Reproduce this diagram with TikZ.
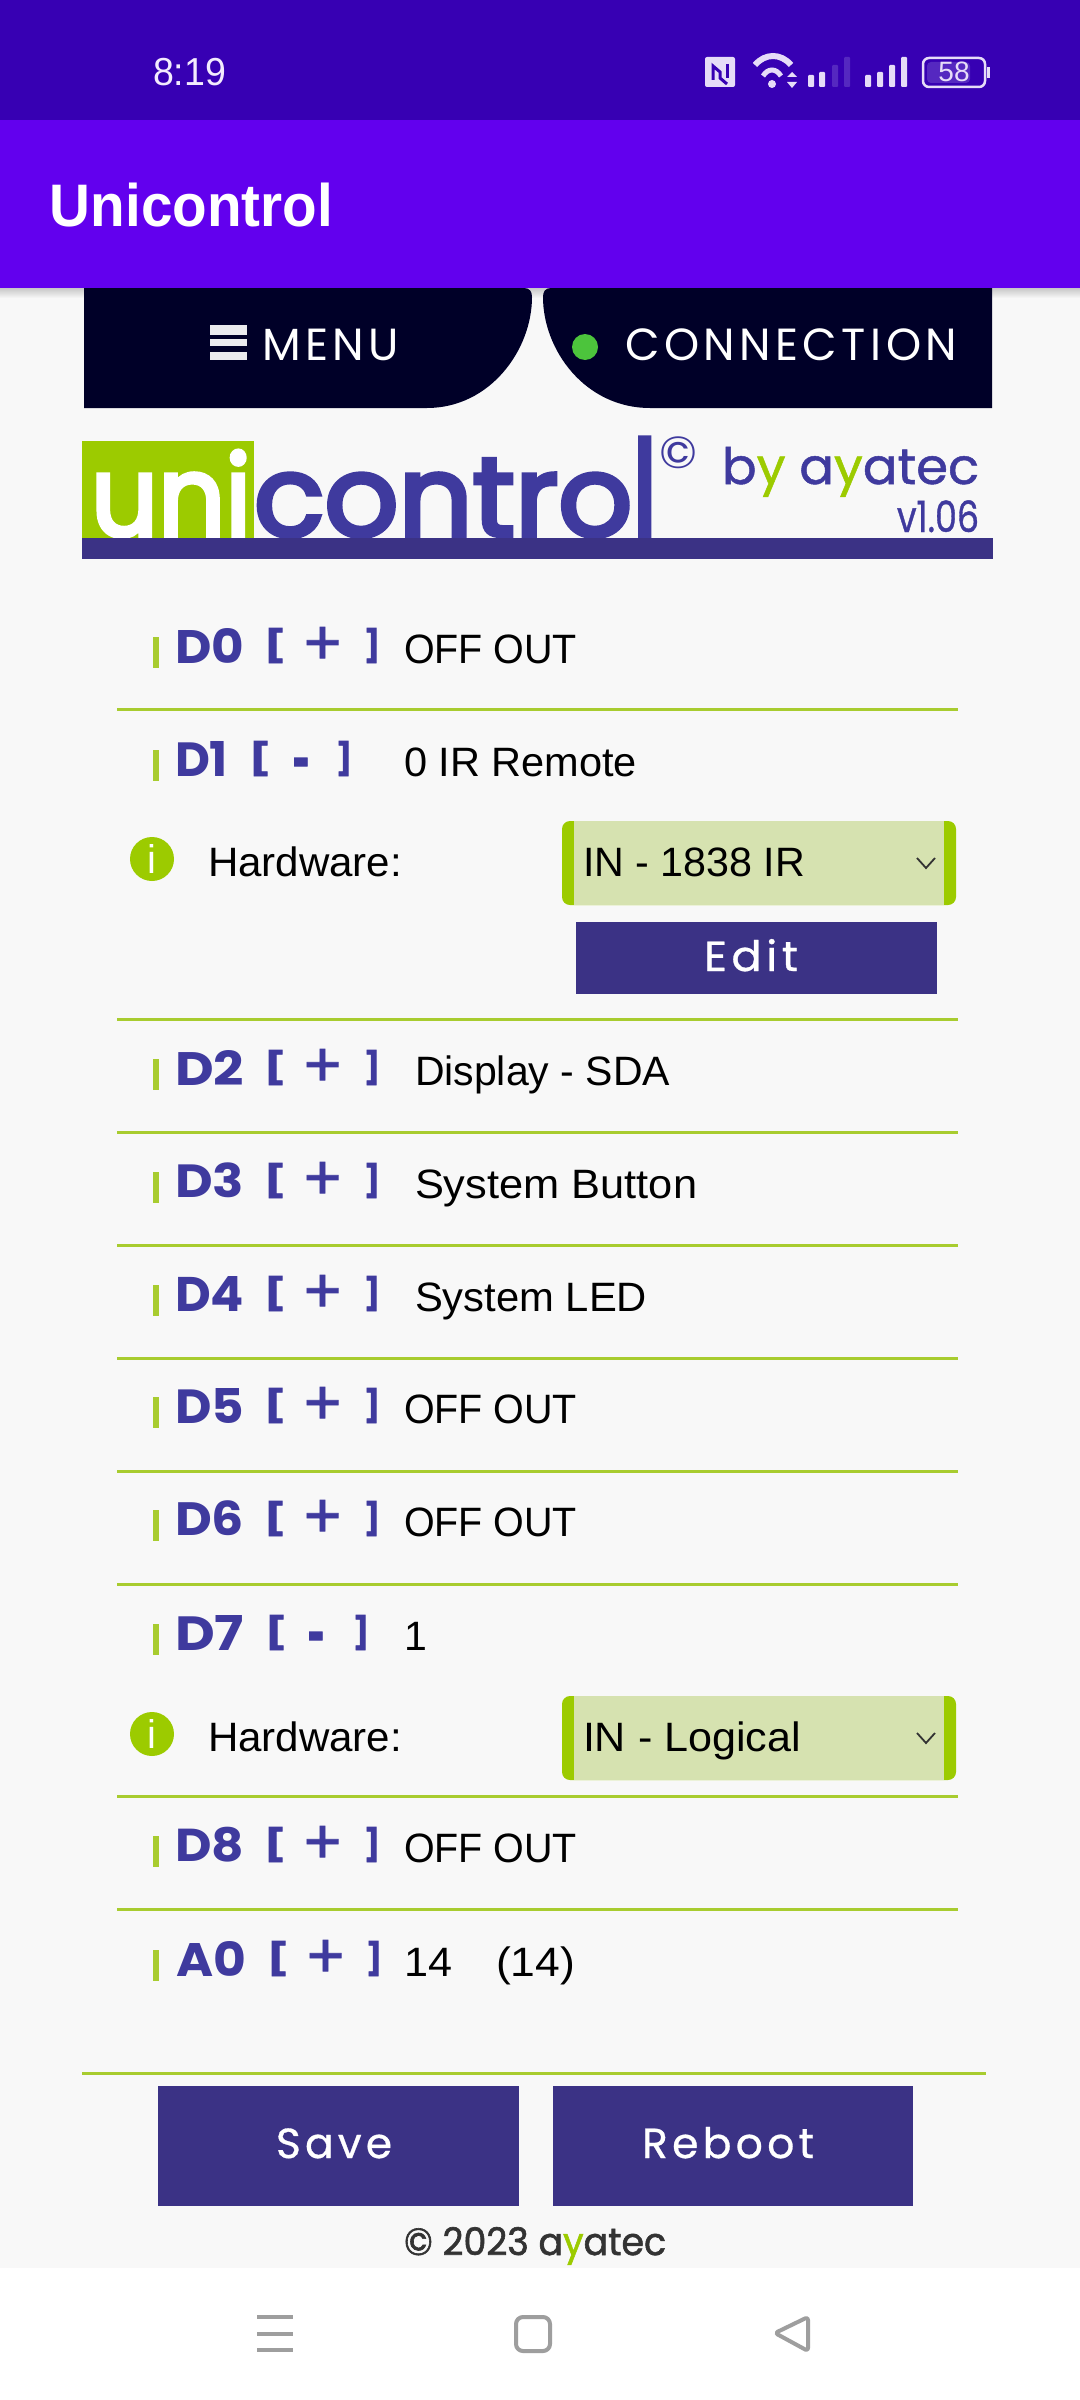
\documentclass[tikz,border=0pt]{standalone}
\usepackage{graphicx}
\usepackage{fontspec}
\setmainfont{Liberation Sans}
\newfontfamily\pop{Poppins}
\newfontfamily\popsp[LetterSpace=10]{Poppins}
\newfontfamily\popbtn[LetterSpace=10,FakeBold=0.7]{Poppins}
\newfontfamily\popfb[FakeBold=4]{Poppins}
\newfontfamily\popmd[FakeBold=1]{Poppins}
\newfontfamily\popft[FakeBold=1.6]{Poppins}
\newfontfamily\popbk[BoldFeatures={FakeBold=2}]{Poppins}
\newdimen\pxu \pxu=0.01cm
\definecolor{statusbar}{HTML}{3700B3}
\definecolor{appbar}{HTML}{6200EE}
\definecolor{pagebg}{HTML}{F8F8F8}
\definecolor{navy}{HTML}{000028}
\definecolor{brand}{HTML}{3B3285}
\definecolor{pintext}{HTML}{3F3A9E}
\definecolor{lime}{HTML}{9CCB00}
\definecolor{rule}{HTML}{A8CC2F}
\definecolor{selbg}{HTML}{D6E2B0}
\definecolor{icon}{HTML}{E6DCF8}
\definecolor{faint}{HTML}{5528C0}
\definecolor{navgray}{HTML}{9E9E9E}
\definecolor{dotgreen}{HTML}{4CC43C}
\newcommand{\fsz}[1]{\pgfmathsetmacro\tmpfsz{#1*0.284528}\fontsize{\tmpfsz pt}{\tmpfsz pt}\selectfont}
\newcommand{\fitw}[2]{\sbox0{#2}\pgfmathsetmacro\fitfac{#1*0.284528/\the\wd0}\scalebox{\fitfac}[1]{\usebox0}}
\newcommand{\fitbox}[3]{\resizebox*{#1\pxu}{#2\pxu}{#3}}
\tikzset{
  txt/.style={anchor=base west,inner sep=0pt,outer sep=0pt},
  pinbox/.style={anchor=south west,inner sep=0pt,outer sep=0pt,text=pintext,font=\pop\bfseries\fsz{50}},
  brkbox/.style={anchor=south west,inner sep=0pt,outer sep=0pt,text=pintext,font=\popbk\bfseries\fsz{50}},
  signbox/.style={anchor=center,inner sep=0pt,outer sep=0pt,text=pintext,font=\popbk\bfseries\fsz{50}},
  plusbox/.style={anchor=center,inner sep=0pt,outer sep=0pt,text=pintext,font=\popmd\fsz{50}},
  rowline/.style={draw=rule,line width=3\pxu},
  tick/.style={fill=rule},
  btn/.style={fill=brand},
  btntxt/.style={anchor=base west,inner sep=0pt,outer sep=0pt,text=white,font=\popbtn\fsz{42}},
  bodytxt/.style={txt,text=black,font=\fsz{41}},
  navline/.style={draw=navgray,line width=4\pxu,line join=round}
}
% #1 id, #2 baseline, #3 pin text, #4 pin x0, #5 pin width, #6 sign, #7 [ x, #8 sign x0, #9 sign width
\newcommand{\pinrow}[9]{
  \fill[tick] (153,#2-26) rectangle (159,#2+5);
  \pgfmathsetmacro\pinw{#5+5}
  \node[pinbox] (pin#1) at (#4-3,#2) {\fitbox{\pinw}{35}{#3}};
  \node[brkbox] (lb#1) at (#7-4,#2) {\fitbox{22}{35}{[}};
  \ifnum#9>20
    \node[plusbox] (sign#1) at (#8+#9/2,#2-17) {\fitbox{42}{38}{#6}};
  \else
    \node[signbox] (sign#1) at (#8+#9/2,#2-6) {\fitbox{17}{24}{#6}};
  \fi
}
\newcommand{\rbr}[3]{\node[brkbox] (rb#1) at (#3,#2) {\fitbox{16}{35}{]}};}
\newcommand{\hwrow}[3]{
  \node[circle,fill=lime,minimum size=44\pxu,inner sep=0pt,text=white,font=\fsz{40}] (info#1) at (152,#2+38) {i};
  \node[bodytxt] (hw#1) at (208,#2+55) {\fitw{194}{Hardware:}};
  \fill[lime,rounded corners=8\pxu] (562,#2) rectangle (956,#2+84);
  \fill[selbg] (574,#2) rectangle (944,#2+84);
  \node[bodytxt] (sel#1) at (583,#2+55) {#3};
  \draw[black!80,line width=1.8\pxu] (917,#2+37) -- (926,#2+47) -- (935,#2+37);
}
\begin{document}
\begin{tikzpicture}[x=0.01cm,y=-0.01cm]
\useasboundingbox (0,0) rectangle (1080,2400);
% backgrounds
\fill[pagebg] (0,0) rectangle (1080,2268);
\fill[white] (0,2268) rectangle (1080,2400);
\fill[statusbar] (0,0) rectangle (1080,120);
\shade[top color=black!22,bottom color=pagebg] (0,288) rectangle (1080,298);
\fill[appbar] (0,120) rectangle (1080,288);
% status bar
\node[txt,text=white!92!appbar,font=\fsz{39}] (clock) at (153,86) {\fitw{73}{8:19}};
\fill[icon,rounded corners=2\pxu] (705,57) rectangle (735,87);
\draw[statusbar,line width=3\pxu] (713,80) -- (713,66) -- (720,72) -- (720,78) -- (727,84);
\draw[statusbar,line width=3\pxu] (727,64) -- (727,78);
\fill[icon] (772,84) circle (4);
\draw[icon,line width=5\pxu] (763,76) .. controls (768,68) and (776,68) .. (781,76);
\draw[icon,line width=6\pxu] (755,65) .. controls (765,53) and (781,53) .. (791,65);
\fill[icon] (787,77) -- (797,77) -- (792,72) -- cycle;
\fill[icon] (787,82) -- (797,82) -- (792,88) -- cycle;
\fill[icon,rounded corners=1\pxu] (808,75) rectangle (814,87);
\fill[icon,rounded corners=1\pxu] (819,72) rectangle (825,87);
\fill[faint,rounded corners=1\pxu] (832,65) rectangle (838,87);
\fill[faint,rounded corners=1\pxu] (844,57) rectangle (850,87);
\fill[icon,rounded corners=1\pxu] (865,75) rectangle (871,87);
\fill[icon,rounded corners=1\pxu] (877,72) rectangle (883,87);
\fill[icon,rounded corners=1\pxu] (889,65) rectangle (895,87);
\fill[icon,rounded corners=1\pxu] (901,57) rectangle (907,87);
\fill[faint,rounded corners=4\pxu] (927,62) rectangle (970,83);
\draw[icon,line width=2.5\pxu,rounded corners=6\pxu] (923,58) rectangle (985,87);
\fill[icon] (987,67) rectangle (990,78);
\node[anchor=center,inner sep=0pt,text=icon,font=\fsz{28}] (batt) at (954,72) {58};
% app bar
\node[txt,text=white,font=\bfseries\fsz{60}] (title) at (50,227) {\fitw{283}{Unicontrol}};
% menu buttons
\fill[navy] (84,288) -- (524,288) .. controls (530,288) and (532,292) .. (532,297)
  .. controls (532,350) and (490,408) .. (427,408) -- (84,408) -- cycle;
\fill[navy] (992,288) -- (551,288) .. controls (545,288) and (543,292) .. (543,297)
  .. controls (543,350) and (585,408) .. (650,408) -- (992,408) -- cycle;
\fill[white!92!navy] (210,325) rectangle (247,335);
\fill[white!92!navy] (210,339) rectangle (247,346);
\fill[white!92!navy] (210,352) rectangle (247,360);
\node[txt,text=white,font=\popsp\fsz{45}] (menu) at (262,360) {\fitw{137}{MENU}};
\node[circle,fill=dotgreen,minimum size=26\pxu,inner sep=0pt] (dot) at (585,347) {};
\node[txt,text=white,font=\popsp\fsz{45}] (conn) at (625,360) {\fitw{332}{CONNECTION}};
% logo
\fill[lime] (82,441) rectangle (254,538);
\node[txt,text=white,font=\popfb\fsz{112}] (uni) at (91,536) {\fitw{160}{uni}};
\node[txt,text=pintext,font=\popfb\fsz{112}] (ctl) at (254,536) {\fitw{403}{contro\resizebox{24\pxu}{98\pxu}{l}}};
\node[anchor=south west,inner sep=0pt,text=pintext,font=\pop\fsz{40}] (copyr) at (659,469) {\fitbox{38}{32}{©}};
\node[txt,text=pintext,font=\popmd\fsz{50}] (byay) at (722,484) {\fitw{257}{b\textcolor{lime}{y} a\textcolor{lime}{y}atec}};
\node[txt,text=pintext,font=\popmd\fsz{43}] (ver) at (897,532) {\fitw{82}{v1.06}};
\fill[brand] (82,538) rectangle (993,559);
% rules
\foreach \yy in {709,1019,1132,1245,1358,1471,1584,1796,1909} \draw[rowline] (117,\yy) -- (958,\yy);
\draw[rowline] (82,2073) -- (986,2073);
% rows
\pinrow{d0}{663}{D0}{178}{64}{+}{268}{308}{29} \rbr{d0}{663}{364}
\node[bodytxt] (v0) at (404,663) {\fitw{173}{OFF OUT}};
\pinrow{d1}{776}{D1}{178}{48}{-}{253}{294}{15} \rbr{d1}{776}{336}
\node[bodytxt] (v1) at (404,776) {\fitw{233}{0 IR Remote}};
\hwrow{a}{821}{\fitw{222}{IN - 1838 IR}}
\fill[btn] (576,922) rectangle (937,994);
\node[btntxt] (edit) at (704,971) {\fitw{94}{Edit}};
\pinrow{d2}{1085}{D2}{178}{64}{+}{268}{308}{29} \rbr{d2}{1085}{364}
\node[bodytxt] (v2) at (415,1085) {\fitw{255}{Display - SDA}};
\pinrow{d3}{1198}{D3}{178}{64}{+}{268}{308}{29} \rbr{d3}{1198}{364}
\node[bodytxt] (v3) at (415,1198) {\fitw{282}{System Button}};
\pinrow{d4}{1311}{D4}{178}{64}{+}{268}{308}{29} \rbr{d4}{1311}{364}
\node[bodytxt] (v4) at (415,1311) {\fitw{232}{System LED}};
\pinrow{d5}{1423}{D5}{178}{64}{+}{268}{308}{29} \rbr{d5}{1423}{364}
\node[bodytxt] (v5) at (404,1423) {\fitw{173}{OFF OUT}};
\pinrow{d6}{1536}{D6}{178}{64}{+}{268}{308}{29} \rbr{d6}{1536}{364}
\node[bodytxt] (v6) at (404,1536) {\fitw{173}{OFF OUT}};
\pinrow{d7}{1650}{D7}{178}{64}{-}{269}{309}{15} \rbr{d7}{1650}{353}
\node[bodytxt] (v7) at (404,1650) {1};
\hwrow{b}{1696}{\fitw{218}{IN - Logical}}
\pinrow{d8}{1862}{D8}{178}{64}{+}{268}{308}{29} \rbr{d8}{1862}{364}
\node[bodytxt] (v8) at (404,1862) {\fitw{173}{OFF OUT}};
\pinrow{a0}{1976}{A0}{179}{65}{+}{271}{311}{29} \rbr{a0}{1976}{366}
\node[bodytxt] (v9) at (404,1976) {\fitw{48}{14}};
\node[bodytxt] (v9b) at (496,1976) {\fitw{79}{(14)}};
% buttons
\fill[btn] (158,2086) rectangle (519,2206);
\fill[btn] (553,2086) rectangle (913,2206);
\node[btntxt] (save) at (276,2158) {\fitw{116}{Save}};
\node[btntxt] (reboot) at (642,2158) {\fitw{172}{Reboot}};
\node[txt,text=black!80,font=\popft\fsz{38}] (foot) at (404,2255) {\fitw{262}{© 2023 a\textcolor{lime}{y}atec}};
% navigation bar
\draw[navline] (257,2317) -- (293,2317);
\draw[navline] (257,2334) -- (293,2334);
\draw[navline] (257,2350) -- (293,2350);
\draw[navline,rounded corners=7\pxu] (516,2317) rectangle (550,2351);
\draw[navline,rounded corners=3\pxu] (775,2333) -- (808,2317) -- (808,2351) -- cycle;
\end{tikzpicture}
\end{document}
